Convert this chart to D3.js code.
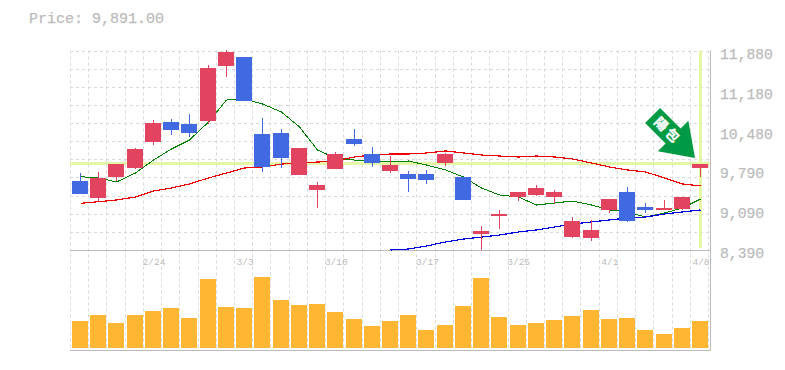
<!DOCTYPE html>
<html>
<head>
<meta charset="utf-8">
<script src="https://cdn.jsdelivr.net/npm/d3@7"></script>
<style>
  html, body { margin: 0; padding: 0; background: #fff; }
  svg { display: block; }
  .price-title { font-family: "Liberation Mono", monospace; font-size: 15px; fill: #bbb; stroke: #bbb; stroke-width: 0.25px; }
  .y-axis text { font-family: "Liberation Mono", monospace; font-size: 14.7px; fill: #bbb; stroke: #bbb; stroke-width: 0.25px; }
  .x-axis text { font-family: "Liberation Mono", monospace; font-size: 9.5px; fill: #bbb; }
</style>
</head>
<body>
<svg></svg>
<script>
const dates = ['2/18','2/19','2/20','2/21','2/24','2/25','2/26','2/27','2/28','3/3','3/4','3/5','3/6','3/7','3/10','3/11','3/12','3/13','3/14','3/17','3/18','3/19','3/21','3/24','3/25','3/26','3/27','3/28','3/31','4/1','4/2','4/3','4/4','4/7','4/8'];
const dateTicks = ['2/24','3/3','3/10','3/17','3/25','4/1','4/8'];
const priceTicks = [8390,9090,9790,10480,11180,11880];

const open  = [9597,9300,9667,9825,10279,10629,10594,10647,11609,11766,10419,10437,9702,9440,9807,10332,10069,9772,9720,9720,9912,9667,8670,8985,9317,9352,9317,8617,8600,9090,9405,9142,9090,9107,9825];
const close = [9370,9650,9894,10157,10612,10489,10437,11574,11854,10997,9842,9999,10174,9527,10069,10244,9912,9877,9632,9615,10069,9265,8722,9020,9405,9475,9405,8897,8740,9282,8897,9090,9125,9317,9891];
const high  = [9737,9755,9894,10174,10664,10682,10769,11626,11889,11766,10699,10507,10174,9580,10104,10507,10192,10034,9772,9790,10087,9667,8810,9090,9405,9527,9440,8967,8915,9282,9492,9212,9265,9317,9891];
const low   = [9370,9247,9597,9807,10227,10402,10367,10594,11416,10997,9755,9825,9702,9125,9807,10209,9842,9737,9405,9545,9860,9265,8390,8757,9247,9335,9195,8600,8547,9037,8880,9037,9090,9090,9667];

const maShort = [9672,9650,9580,9737,9964,10157,10314,10629,11014,11032,10944,10804,10542,10139,9999,9964,9947,9929,9947,9877,9790,9667,9475,9352,9317,9177,9212,9247,9177,9090,9055,8967,9037,9125,9282];
const maMid   = [9207,9235,9265,9317,9422,9475,9545,9650,9737,9825,9842,9894,9912,9929,9947,10017,10052,10069,10069,10087,10122,10087,10052,10034,10017,10034,10017,9982,9912,9842,9790,9755,9650,9545,9510];
const maLong  = [null,null,null,null,null,null,null,null,null,null,null,null,null,null,null,null,null,8390,8407,8460,8530,8582,8617,8652,8705,8740,8792,8845,8880,8915,8950,8967,9020,9055,9090];

const volume = [27,33,25,33,37,40,30,69,41,40,71,48,43,44,36,29,22,27,33,18,23,42,70,31,23,25,28,32,38,29,30,18,14,20,27];

const lastPrice = 9891;

const margin = {left: 70, right: 710, top: 50.5, priceBottom: 250, volBottom: 350};

const svg = d3.select("svg").attr("width", 785).attr("height", 370);

const x = d3.scaleBand().domain(dates).range([70.9, 709.1]);
const y = d3.scaleLinear().domain([8390, 11880]).range([margin.priceBottom, margin.top]);
const v = d3.scaleLinear().domain([0, d3.max(volume)]).range([348, 277]);
const center = d => Math.round(x(d) + x.bandwidth() / 2);

svg.append("text").attr("class", "price-title").attr("x", 29).attr("y", 23)
   .text(`Price: ${d3.format(",.2f")(lastPrice)}`);

//grid
const hGrid = d3.range(1, 12).map(i => margin.priceBottom - i * (margin.priceBottom - margin.top) / 11);
svg.append("g").selectAll("line").data(hGrid).enter().append("line")
   .attr("x1", margin.left).attr("x2", margin.right)
   .attr("y1", d => Math.round(d) + 0.5).attr("y2", d => Math.round(d) + 0.5)
   .attr("stroke", "#d9d9d9").attr("stroke-dasharray", "3,3");
const vGrid = dates.map(d => Math.floor(x(d) - 0.5)).concat([708]);
svg.append("g").selectAll("line").data(vGrid).enter().append("line")
   .attr("x1", d => d + 0.5).attr("x2", d => d + 0.5)
   .attr("y1", margin.top).attr("y2", margin.volBottom)
   .attr("stroke", "#d9d9d9").attr("stroke-dasharray", "3,3");

//highlight of the last price and day
svg.append("line").attr("x1", margin.left).attr("x2", margin.right)
   .attr("y1", Math.round(y(lastPrice)) - 0.5).attr("y2", Math.round(y(lastPrice)) - 0.5)
   .attr("stroke", "#e3f7a6").attr("stroke-width", 3);
svg.append("line").attr("x1", center('4/8') + 0.5).attr("x2", center('4/8') + 0.5)
   .attr("y1", margin.top).attr("y2", 248)
   .attr("stroke", "#e3f7a6").attr("stroke-width", 3);

//frame
svg.append("path").attr("fill", "none").attr("stroke", "#bbb")
   .attr("d", `M${margin.left},250.5H${margin.right}M${margin.left},350.5H${margin.right}.5V${margin.top}`);

//moving averages
const lineOf = d3.line().defined(d => d[1] !== null).x(d => center(d[0]) + 0.5).y(d => y(d[1]));
[[maShort, "#008000", 1], [maMid, "#f00000", 1.2], [maLong, "#0000e6", 1.2]].forEach(([vals, color, w]) => {
  svg.append("path").datum(dates.map((d, i) => [d, vals[i]]))
     .attr("fill", "none").attr("stroke", color).attr("stroke-width", w)
     .attr("shape-rendering", "crispEdges").attr("d", lineOf);
});

//candles
const up = "#e2435f", down = "#4169e1";
const candle = svg.append("g").selectAll("g").data(dates).enter().append("g");
candle.append("line")
   .attr("x1", d => center(d) + 0.5).attr("x2", d => center(d) + 0.5)
   .attr("y1", (d, i) => Math.round(y(high[i]))).attr("y2", (d, i) => Math.round(y(low[i])))
   .attr("stroke", (d, i) => close[i] >= open[i] ? up : down);
candle.append("rect")
   .attr("x", d => center(d) - 8).attr("width", 16)
   .attr("y", (d, i) => Math.round(y(Math.max(open[i], close[i]))))
   .attr("height", (d, i) => Math.max(1, Math.round(y(Math.min(open[i], close[i]))) - Math.round(y(Math.max(open[i], close[i])))))
   .attr("fill", (d, i) => close[i] >= open[i] ? up : down);

//volume
svg.append("g").selectAll("rect").data(dates).enter().append("rect")
   .attr("x", d => center(d) - 8).attr("width", 16)
   .attr("y", (d, i) => v(volume[i])).attr("height", (d, i) => 348 - v(volume[i]))
   .attr("fill", "#ffb733");

//axes
const xAxis = svg.append("g").attr("class", "x-axis").attr("transform", "translate(1,250)")
   .call(d3.axisBottom(x).tickValues(dateTicks).tickSize(0).tickPadding(8));
xAxis.select(".domain").remove();
const yAxis = svg.append("g").attr("class", "y-axis").attr("transform", "translate(720,0)")
   .call(d3.axisRight(y).tickValues(priceTicks).tickSize(0).tickPadding(0).tickFormat(d3.format(",")));
yAxis.select(".domain").remove();
yAxis.selectAll("text").attr("dy", "7.5px");

//signal arrow
const arrow = svg.append("g").attr("transform", "translate(695,158) rotate(-45)");
arrow.append("path").attr("fill", "#009944")
   .attr("d", d3.line()([[0,0],[-21.6,-31],[-10.6,-31],[-10.6,-60],[10.6,-60],[10.6,-31],[21.6,-31]]));
arrow.append("text").attr("transform", "translate(0,-38.5) rotate(90)")
   .attr("text-anchor", "middle").attr("dy", "0.35em").attr("fill", "#fff").attr("stroke", "#fff").attr("stroke-width", 0.4)
   .attr("font-family", "Noto Sans CJK JP").attr("font-weight", "bold").attr("font-size", 13)
   .attr("letter-spacing", 3)
   .text("陽包");
</script>
</body>
</html>
